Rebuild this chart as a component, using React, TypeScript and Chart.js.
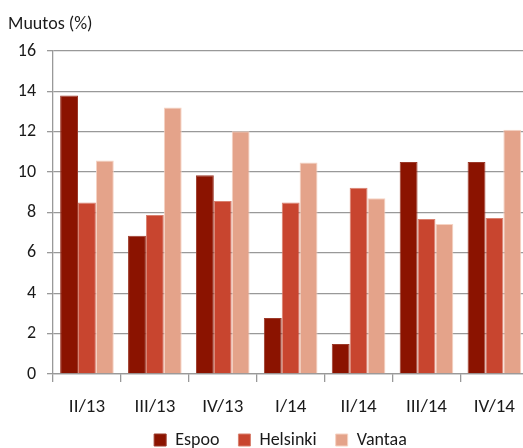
import React, { useEffect, useRef } from "react";
import { Chart, registerables } from "chart.js";

Chart.register(...registerables);

const categories = ["II/13", "III/13", "IV/13", "I/14", "II/14", "III/14", "IV/14"];
const espoo = [13.8, 6.85, 9.85, 2.78, 1.48, 10.5, 10.5];
const helsinki = [8.5, 7.88, 8.57, 8.5, 9.22, 7.68, 7.73];
const vantaa = [10.58, 13.2, 12.03, 10.48, 8.71, 7.43, 12.1];
const yTicks = [0, 2, 4, 6, 8, 10, 12, 14, 16];
const yTitle = "Muutos (%)";

const FONT = 'Carlito, "Liberation Sans Narrow", "Open Sans", sans-serif';
const GRID = "#999999";
const LEGEND_SHIFT = 16;

const titlePlugin = {
  id: "topTitle",
  afterLayout(chart: any) {
    const lg = chart.legend;
    if (lg) {
      lg.left += LEGEND_SHIFT;
      lg.right += LEGEND_SHIFT;
    }
  },
  afterDraw(chart: any) {
    const ctx = chart.ctx;
    ctx.save();
    ctx.font = `18px ${FONT}`;
    ctx.fillStyle = "#1a1a1a";
    ctx.textAlign = "left";
    ctx.textBaseline = "alphabetic";
    ctx.fillText(yTitle, 8, 29);
    ctx.restore();
  },
};

export default function App() {
  const ref = useRef<HTMLCanvasElement>(null);
  useEffect(() => {
    if (!ref.current) return;
    const chart = new Chart(ref.current, {
      type: "bar",
      data: {
        labels: categories,
        datasets: [
          { label: "Espoo", data: espoo, backgroundColor: "#8B1300", borderColor: "#9c3a2a", borderWidth: 1 },
          { label: "Helsinki", data: helsinki, backgroundColor: "#C8452F", borderColor: "#d9806f", borderWidth: 1 },
          { label: "Vantaa", data: vantaa, backgroundColor: "#E4A38A", borderColor: "#f6d3c3", borderWidth: 1 },
        ],
      },
      options: {
        responsive: false,
        animation: false,
        maintainAspectRatio: false,
        layout: { padding: { left: 0, right: 0, top: 51, bottom: 0 } },
        datasets: { bar: { categoryPercentage: 0.79, barPercentage: 1 } } as any,
        plugins: {
          title: { display: false },
          tooltip: { enabled: false },
          legend: {
            position: "bottom",
            labels: {
              boxWidth: 12,
              boxHeight: 12,
              padding: 19,
              color: "#1a1a1a",
              font: { family: FONT, size: 18 },
            },
          },
        },
        scales: {
          x: {
            offset: true,
            afterFit: (s: any) => { s.height = 38; },
            grid: { display: true, drawOnChartArea: false, drawTicks: true, tickLength: 8, color: GRID, lineWidth: 1.3, offset: true },
            border: { display: true, color: GRID, width: 1.3 },
            ticks: { color: "#1a1a1a", font: { family: FONT, size: 19 }, padding: 14, maxRotation: 0 },
          },
          y: {
            min: 0,
            max: 16,
            afterFit: (s: any) => { s.width = 53; },
            afterBuildTicks: (s: any) => { s.ticks = yTicks.map((v) => ({ value: v })); },
            grid: { color: GRID, lineWidth: 1.3, tickLength: 6, drawTicks: true },
            border: { display: true, color: GRID, width: 1.3 },
            ticks: { color: "#1a1a1a", font: { family: FONT, size: 18 }, padding: 11 },
          },
        },
      },
      plugins: [titlePlugin],
    });
    return () => chart.destroy();
  }, []);
  return (
    <div style={{ position: "fixed", left: 0, top: 0, width: 523, height: 448, overflow: "hidden", background: "#fff" }}>
      <canvas ref={ref} width={529} height={459} style={{ display: "block" }} />
    </div>
  );
}
